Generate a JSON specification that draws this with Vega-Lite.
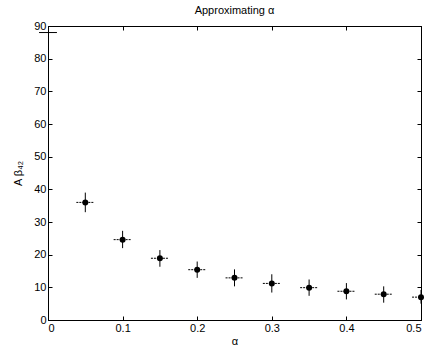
{
  "$schema": "https://vega.github.io/schema/vega-lite/v6.json",
  "autosize": "none",
  "width": 373,
  "height": 294,
  "padding": {"left": 48, "top": 26, "right": 6, "bottom": 32},
  "background": "white",
  "title": {"text": "Approximating α", "font": "Liberation Sans", "fontSize": 11, "fontWeight": "normal", "color": "black", "offset": 4},
  "config": {
    "view": {"stroke": "black", "strokeWidth": 1},
    "axis": {"labelFont": "Liberation Sans", "labelFontSize": 11, "labelColor": "black", "titleFont": "Liberation Sans", "titleFontSize": 11, "titleFontWeight": "normal", "titleColor": "black", "domainColor": "black", "tickColor": "black", "grid": false, "tickSize": -4, "labelPadding": 6}
  },
  "data": {"values": [
    {"a": 0.0, "v": 88, "alo": -0.012, "ahi": 0.012, "vlo": 87.3, "vhi": 88.7, "kind": "bar"},
    {"a": 0.05, "v": 36, "alo": 0.038, "ahi": 0.062, "vlo": 33, "vhi": 39, "kind": "pt"},
    {"a": 0.1, "v": 24.6, "alo": 0.088, "ahi": 0.112, "vlo": 22, "vhi": 27.3, "kind": "pt"},
    {"a": 0.15, "v": 18.9, "alo": 0.138, "ahi": 0.162, "vlo": 16.3, "vhi": 21.4, "kind": "pt"},
    {"a": 0.2, "v": 15.4, "alo": 0.188, "ahi": 0.212, "vlo": 12.9, "vhi": 17.9, "kind": "pt"},
    {"a": 0.25, "v": 12.9, "alo": 0.238, "ahi": 0.262, "vlo": 10.3, "vhi": 15.5, "kind": "pt"},
    {"a": 0.3, "v": 11.2, "alo": 0.288, "ahi": 0.312, "vlo": 8.4, "vhi": 14, "kind": "pt"},
    {"a": 0.35, "v": 9.9, "alo": 0.338, "ahi": 0.362, "vlo": 7.4, "vhi": 12.4, "kind": "pt"},
    {"a": 0.4, "v": 8.8, "alo": 0.388, "ahi": 0.412, "vlo": 6.3, "vhi": 11.3, "kind": "pt"},
    {"a": 0.45, "v": 7.9, "alo": 0.438, "ahi": 0.462, "vlo": 5.3, "vhi": 10.3, "kind": "pt"},
    {"a": 0.5, "v": 7.0, "alo": 0.488, "ahi": 0.512, "vlo": 5, "vhi": 9.2, "kind": "pt"}
  ]},
  "resolve": {"axis": {"x": "independent", "y": "independent"}},
  "layer": [
    {
      "mark": {"type": "rule", "color": "black", "strokeWidth": 1, "clip": true},
      "encoding": {
        "x": {"field": "a", "type": "quantitative", "scale": {"domain": [0, 0.5], "nice": false}, "axis": {"title": "α", "values": [0, 0.1, 0.2, 0.3, 0.4, 0.5], "format": ".1~f", "titlePadding": 2}},
        "y": {"field": "vlo", "type": "quantitative", "scale": {"domain": [0, 90], "nice": false}, "axis": {"title": "A β₄₂", "values": [0, 10, 20, 30, 40, 50, 60, 70, 80, 90], "titlePadding": 10}},
        "y2": {"field": "vhi"}
      }
    },
    {
      "transform": [{"filter": "datum.kind === 'pt'"}],
      "mark": {"type": "rule", "color": "black", "strokeWidth": 1, "strokeDash": [2, 1], "clip": true},
      "encoding": {
        "x": {"field": "alo", "type": "quantitative", "axis": {"orient": "top", "labels": false, "title": null, "values": [0, 0.1, 0.2, 0.3, 0.4, 0.5]}},
        "x2": {"field": "ahi"},
        "y": {"field": "v", "type": "quantitative", "axis": {"orient": "right", "labels": false, "title": null, "values": [0, 10, 20, 30, 40, 50, 60, 70, 80, 90]}}
      }
    },
    {
      "transform": [{"filter": "datum.kind === 'bar'"}],
      "mark": {"type": "rule", "color": "black", "strokeWidth": 1},
      "encoding": {
        "x": {"field": "alo", "type": "quantitative", "axis": null},
        "x2": {"field": "ahi"},
        "y": {"field": "v", "type": "quantitative", "axis": null}
      }
    },
    {
      "transform": [{"filter": "datum.kind === 'pt'"}],
      "mark": {"type": "circle", "color": "black", "opacity": 1, "size": 36},
      "encoding": {
        "x": {"field": "a", "type": "quantitative", "axis": null},
        "y": {"field": "v", "type": "quantitative", "axis": null}
      }
    }
  ]
}
